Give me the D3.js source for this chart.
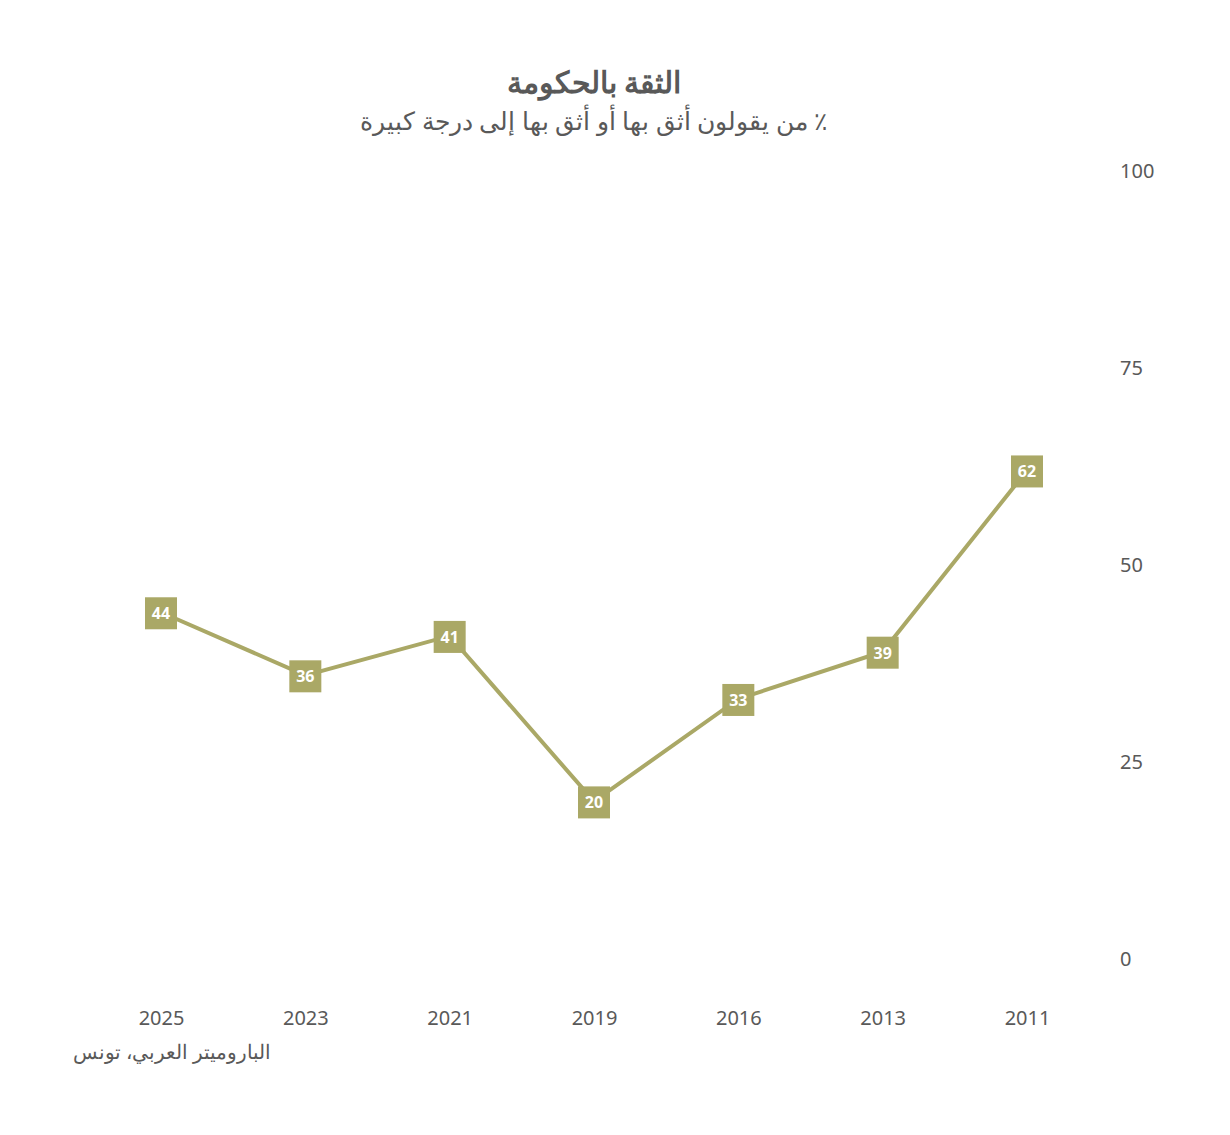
<!DOCTYPE html>
<html>
<head>
<meta charset="utf-8">
<script src="https://cdn.jsdelivr.net/npm/d3@7"></script>
<style>
  body { margin: 0; background: #fff; }
  svg { display: block; font-family: "Noto Sans", sans-serif; }
</style>
</head>
<body>
<div id="chart"></div>
<script>
var years = ["2025", "2023", "2021", "2019", "2016", "2013", "2011"];
var trust = [44, 36, 41, 20, 33, 39, 62];
var yTicks = [0, 25, 50, 75, 100];

var title = "الثقة بالحكومة";
var subtitle = "٪ من يقولون أثق بها أو أثق بها إلى درجة كبيرة";
var source = "الباروميتر العربي، تونس";

var width = 1230, height = 1135;
var lineColor = "#aaa866";
var textColor = "#595959";

var svg = d3.select("#chart").append("svg")
    .attr("width", width)
    .attr("height", height);

var x = d3.scalePoint().domain(years).range([161, 1027]);
var y = d3.scaleLinear().domain([0, 100]).range([959, 171]);

// titles
svg.append("text")
    .attr("x", 594).attr("y", 93)
    .attr("text-anchor", "middle")
    .attr("direction", "rtl")
    .style("font-size", "30px")
    .style("font-weight", "bold")
    .style("fill", textColor)
    .text(title);

svg.append("text")
    .attr("x", 594).attr("y", 130)
    .attr("text-anchor", "middle")
    .attr("direction", "rtl")
    .style("font-size", "25px")
    .style("fill", textColor)
    .text(subtitle);

// y axis on the right, labels only
var yAxis = svg.append("g")
    .attr("transform", "translate(1120,0)")
    .call(d3.axisRight(y).tickValues(yTicks).tickSize(0).tickPadding(0));
yAxis.select(".domain").remove();
yAxis.selectAll("text")
    .style("font-family", "Noto Sans, sans-serif")
    .style("font-size", "20px")
    .style("fill", textColor);

// x axis, labels only
var xAxis = svg.append("g")
    .attr("transform", "translate(0,1011)")
    .call(d3.axisBottom(x).tickSize(0).tickPadding(0));
xAxis.select(".domain").remove();
xAxis.selectAll("text")
    .style("font-family", "Noto Sans, sans-serif")
    .style("font-size", "20px")
    .style("fill", textColor);

// line
var data = years.map(function(d, i) { return {year: d, value: trust[i]}; });

svg.append("path")
    .datum(data)
    .attr("fill", "none")
    .attr("stroke", lineColor)
    .attr("stroke-width", 4)
    .attr("d", d3.line()
        .x(function(d) { return x(d.year); })
        .y(function(d) { return y(d.value); }));

// value boxes
var box = 32;
svg.selectAll(".pt")
    .data(data)
    .enter()
    .append("rect")
        .attr("class", "pt")
        .attr("x", function(d) { return x(d.year) - box / 2; })
        .attr("y", function(d) { return y(d.value) - box / 2 + 1; })
        .attr("width", box)
        .attr("height", box)
        .attr("fill", lineColor);

svg.selectAll(".lbl")
    .data(data)
    .enter()
    .append("text")
        .attr("class", "lbl")
        .attr("x", function(d) { return x(d.year); })
        .attr("y", function(d) { return y(d.value) + 7; })
        .attr("text-anchor", "middle")
        .style("font-size", "16px")
        .style("font-weight", "bold")
        .style("fill", "#fff")
        .text(function(d) { return d.value; });

// source (rtl: start = right edge)
svg.append("text")
    .attr("x", 271).attr("y", 1059)
    .attr("text-anchor", "start")
    .attr("direction", "rtl")
    .style("font-size", "20px")
    .style("fill", textColor)
    .text(source);
</script>
</body>
</html>
